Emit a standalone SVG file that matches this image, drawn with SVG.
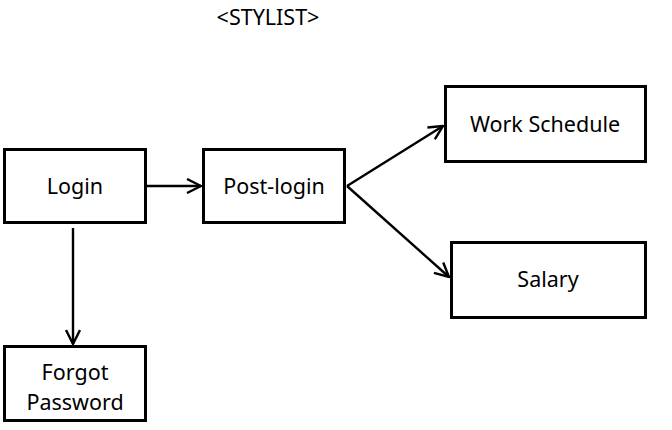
<svg xmlns="http://www.w3.org/2000/svg" width="672" height="430" viewBox="0 0 672 430">
<style>
.box{fill:#fff;stroke:#000;stroke-width:3}
.lbl{font-family:"Noto Sans","Liberation Sans",sans-serif;font-size:21.5px;fill:#000;text-anchor:middle}
.con{stroke:#000;stroke-width:2.4;fill:none}
</style>
<defs>
<marker id="arr" viewBox="0 0 16 16" refX="15" refY="8" markerWidth="16" markerHeight="16" markerUnits="userSpaceOnUse" orient="auto">
<path d="M1,1 L15,8 L1,15" fill="none" stroke="#000" stroke-width="2.4"/>
</marker>
</defs>
<text class="lbl" x="268" y="25" id="title">&lt;STYLIST&gt;</text>
<g id="login"><rect class="box" x="4.5" y="149.5" width="141" height="73"/><text class="lbl" x="75" y="194">Login</text></g>
<g id="postlogin"><rect class="box" x="203.5" y="149.5" width="141" height="73"/><text class="lbl" x="274" y="194">Post-login</text></g>
<g id="work"><rect class="box" x="445.5" y="86.5" width="200" height="75"/><text class="lbl" x="545" y="132">Work Schedule</text></g>
<g id="salary"><rect class="box" x="451.5" y="242.5" width="194" height="75"/><text class="lbl" x="548" y="287">Salary</text></g>
<g id="forgot"><rect class="box" x="4.5" y="346.5" width="141" height="74"/><text class="lbl" x="75" y="380">Forgot</text><text class="lbl" x="75" y="410">Password</text></g>
<g id="connectors">
<line class="con" x1="147" y1="186" x2="201" y2="186" marker-end="url(#arr)"/>
<line class="con" x1="73" y1="228" x2="73" y2="344" marker-end="url(#arr)"/>
<line class="con" x1="347" y1="186" x2="443" y2="126" marker-end="url(#arr)"/>
<line class="con" x1="347" y1="186" x2="449" y2="277" marker-end="url(#arr)"/>
</g>
</svg>
